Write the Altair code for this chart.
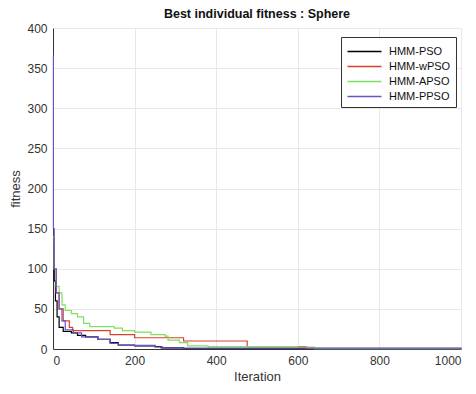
import altair as alt
import pandas as pd

series_names = ["HMM-PSO", "HMM-wPSO", "HMM-APSO", "HMM-PPSO"]
series_colors = ["#000000", "#d9412b", "#7ee05e", "#6b52c7"]

pso_iter = [0, 3, 6, 10, 15, 25, 45, 60, 80, 110, 140, 160, 200, 250, 265, 320, 1000]
pso_val = [130, 85, 60, 40, 27, 22, 20, 17, 15, 12, 8, 5, 4, 3, 1.5, 0.6, 0.3]

wpso_iter = [0, 3, 8, 15, 25, 40, 48, 140, 200, 320, 476, 620, 1000]
wpso_val = [140, 100, 70, 50, 35, 27, 23, 18, 14, 10, 3, 0.8, 0.5]

apso_iter = [0, 3, 8, 15, 22, 30, 45, 60, 75, 90, 150, 170, 200, 240, 275, 282, 310, 330, 380, 600, 640, 1000]
apso_val = [140, 100, 78, 70, 55, 48, 44, 40, 32, 28, 26, 23, 21, 18, 16, 11, 8, 4, 3, 2.5, 0.5, 0.4]

ppso_iter = [0, 1, 3, 8, 15, 22, 30, 50, 70, 110, 140, 160, 250, 270, 1000]
ppso_val = [365, 150, 100, 70, 50, 35, 24, 20, 15, 12, 7, 4.5, 2.5, 1, 0.5]

rows = []
for name, its, vals in [
    ("HMM-PSO", pso_iter, pso_val),
    ("HMM-wPSO", wpso_iter, wpso_val),
    ("HMM-APSO", apso_iter, apso_val),
    ("HMM-PPSO", ppso_iter, ppso_val),
]:
    for i, v in zip(its, vals):
        rows.append({"Iteration": i, "fitness": v, "series": name})
df = pd.DataFrame(rows)

chart = alt.Chart(df).mark_line(interpolate="step-after", strokeWidth=1.2).encode(
    x=alt.X("Iteration:Q", scale=alt.Scale(domain=[0, 1000], nice=False),
            axis=alt.Axis(values=[0, 200, 400, 600, 800, 1000], format="d", title="Iteration")),
    y=alt.Y("fitness:Q", scale=alt.Scale(domain=[0, 400], nice=False),
            axis=alt.Axis(values=[0, 50, 100, 150, 200, 250, 300, 350, 400], title="fitness")),
    color=alt.Color("series:N", sort=series_names,
                    scale=alt.Scale(domain=series_names, range=series_colors),
                    legend=alt.Legend(title=None, orient="none", legendX=288, legendY=9,
                                      symbolType="M-2,0H2", symbolSize=289, symbolStrokeWidth=1.5,
                                      symbolOffset=9,
                                      labelFontSize=11, labelFont="Liberation Sans",
                                      labelColor="#111111", rowPadding=0, labelOffset=15,
                                      strokeColor="#333333", fillColor="white",
                                      padding=5)),
    order=alt.Order("series:N"),
).properties(
    width=408, height=321,
    title=alt.TitleParams("Best individual fitness : Sphere", fontSize=12.5, fontWeight="bold",
                          font="Liberation Sans", color="#111111", offset=2),
    autosize=alt.AutoSizeParams(type="none"),
    padding={"left": 45, "top": 20, "right": 7, "bottom": 37},
).configure_axis(
    labelFont="Liberation Sans", labelFontSize=12, labelColor="#333333",
    titleFont="Liberation Sans", titleFontSize=13, titleColor="#333333", titleFontWeight="normal",
    gridColor="#e8e8e8", domainColor="#333333", ticks=False, labelPadding=6,
).configure_axisX(titlePadding=4).configure_axisY(titlePadding=4).configure_view(stroke="#e8e8e8")

chart.save("out.html", embed_options={"renderer": "svg", "actions": False})
